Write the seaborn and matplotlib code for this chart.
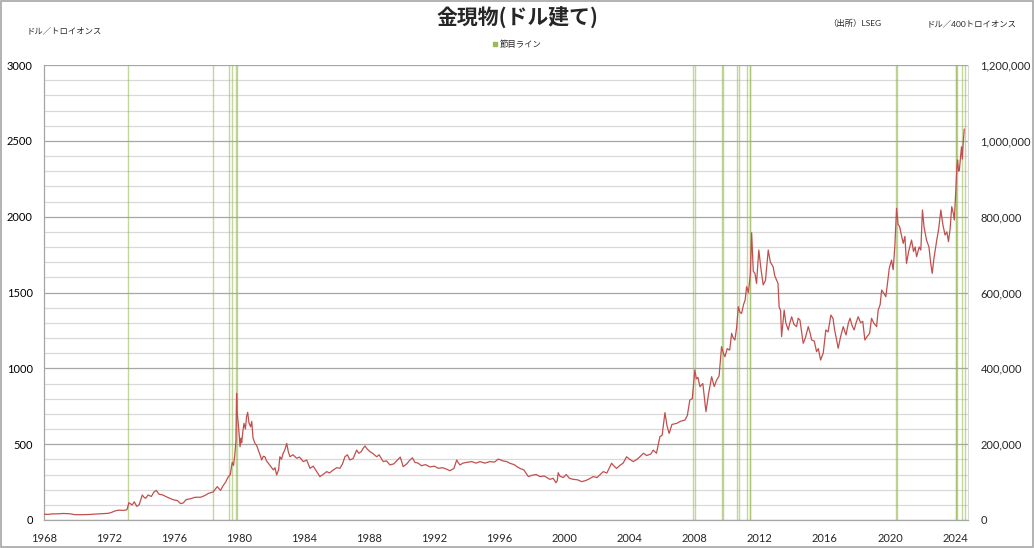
import numpy as np
import pandas as pd
import seaborn as sns
import matplotlib
matplotlib.use("Agg")
import matplotlib.pyplot as plt
from matplotlib.ticker import MultipleLocator, FuncFormatter
from matplotlib.lines import Line2D
from matplotlib.patches import Rectangle

# ---------------- data ----------------
years = [
    1968.00, 1968.25, 1968.5, 1968.9, 1969.2, 1969.6, 1969.9, 1970.3, 1970.7, 1971.0,
    1971.4, 1971.7, 1971.95, 1972.1, 1972.4, 1972.6, 1972.9, 1973.1, 1973.22, 1973.42,
    1973.55, 1973.7, 1973.85, 1974.04, 1974.15, 1974.25, 1974.4, 1974.6, 1974.76, 1974.9,
    1975.07, 1975.3, 1975.58, 1975.8, 1976.0, 1976.2, 1976.4, 1976.55, 1976.75, 1977.0,
    1977.3, 1977.63, 1977.9, 1978.1, 1978.24, 1978.4, 1978.65, 1978.85, 1979.0, 1979.17,
    1979.3, 1979.45, 1979.57, 1979.65, 1979.72, 1979.8, 1979.84, 1979.88, 1979.94, 1980.0,
    1980.05, 1980.12, 1980.15, 1980.22, 1980.29, 1980.38, 1980.45, 1980.52, 1980.6, 1980.7,
    1980.77, 1980.85, 1980.97, 1981.08, 1981.17, 1981.28, 1981.38, 1981.48, 1981.58, 1981.68,
    1981.79, 1981.95, 1982.1, 1982.2, 1982.3, 1982.42, 1982.5, 1982.6, 1982.7, 1982.8,
    1982.92, 1983.02, 1983.12, 1983.3, 1983.53, 1983.7, 1983.94, 1984.15, 1984.35, 1984.55,
    1984.76, 1984.96, 1985.15, 1985.38, 1985.55, 1985.78, 1986.0, 1986.19, 1986.35, 1986.5,
    1986.65, 1986.8, 1987.0, 1987.22, 1987.35, 1987.5, 1987.6, 1987.73, 1987.85, 1988.04,
    1988.2, 1988.45, 1988.6, 1988.85, 1989.05, 1989.27, 1989.5, 1989.68, 1989.9, 1990.08,
    1990.3, 1990.5, 1990.65, 1990.8, 1991.0, 1991.2, 1991.45, 1991.72, 1992.0, 1992.23,
    1992.5, 1992.75, 1992.95, 1993.2, 1993.37, 1993.45, 1993.57, 1993.75, 1993.98, 1994.3,
    1994.55, 1994.8, 1995.1, 1995.41, 1995.7, 1995.92, 1996.2, 1996.45, 1996.64, 1996.9,
    1997.1, 1997.25, 1997.5, 1997.77, 1998.0, 1998.25, 1998.49, 1998.75, 1999.1, 1999.3,
    1999.47, 1999.55, 1999.61, 1999.7, 1999.92, 2000.1, 2000.3, 2000.53, 2000.8, 2001.05,
    2001.3, 2001.5, 2001.76, 2002.0, 2002.2, 2002.38, 2002.6, 2002.89, 2003.05, 2003.2,
    2003.4, 2003.6, 2003.81, 2004.0, 2004.22, 2004.45, 2004.63, 2004.85, 2005.05, 2005.3,
    2005.45, 2005.65, 2005.86, 2006.0, 2006.17, 2006.3, 2006.43, 2006.6, 2006.89, 2007.1,
    2007.4, 2007.55, 2007.7, 2007.85, 2008.01, 2008.1, 2008.2, 2008.32, 2008.5, 2008.69,
    2008.85, 2009.04, 2009.2, 2009.35, 2009.5, 2009.65, 2009.76, 2009.86, 2010.0, 2010.15,
    2010.27, 2010.37, 2010.47, 2010.58, 2010.68, 2010.78, 2010.88, 2011.0, 2011.1, 2011.19,
    2011.3, 2011.42, 2011.5, 2011.6, 2011.7, 2011.8, 2011.94, 2012.08, 2012.21, 2012.35,
    2012.52, 2012.65, 2012.82, 2012.92, 2013.03, 2013.12, 2013.19, 2013.28, 2013.34, 2013.42,
    2013.5, 2013.6, 2013.75, 2013.85, 2013.96, 2014.1, 2014.26, 2014.36, 2014.47, 2014.57,
    2014.67, 2014.8, 2014.98, 2015.1, 2015.19, 2015.35, 2015.49, 2015.6, 2015.74, 2015.9,
    2016.06, 2016.2, 2016.37, 2016.5, 2016.6, 2016.7, 2016.82, 2016.95, 2017.13, 2017.3,
    2017.45, 2017.55, 2017.68, 2017.8, 2017.92, 2018.05, 2018.2, 2018.33, 2018.46, 2018.6,
    2018.75, 2018.87, 2019.0, 2019.18, 2019.28, 2019.4, 2019.49, 2019.6, 2019.69, 2019.75,
    2019.85, 2019.96, 2020.1, 2020.2, 2020.3, 2020.41, 2020.5, 2020.6, 2020.7, 2020.82,
    2020.92, 2021.02, 2021.15, 2021.33, 2021.45, 2021.55, 2021.64, 2021.8, 2021.9, 2022.0,
    2022.1, 2022.25, 2022.4, 2022.5, 2022.6, 2022.7, 2022.88, 2023.0, 2023.13, 2023.25,
    2023.39, 2023.5, 2023.6, 2023.7, 2023.8, 2023.9, 2023.96, 2024.05, 2024.12, 2024.16,
    2024.22, 2024.27, 2024.35, 2024.4, 2024.45, 2024.5, 2024.57,
]
prices = [
    38, 37, 40, 41, 43, 41, 35, 35, 36, 38,
    40, 42, 44, 48, 61, 65, 63, 68, 114, 99,
    120, 90, 100, 165, 150, 143, 165, 155, 185, 195,
    170, 165, 150, 140, 132, 128, 108, 112, 135, 140,
    150, 150, 162, 175, 180, 185, 220, 195, 225, 250,
    280, 300, 380, 360, 420, 520, 835, 700, 637, 560,
    483, 540, 510, 580, 637, 600, 680, 710, 640, 615,
    650, 540, 505, 490, 461, 430, 396, 420, 417, 390,
    374, 350, 330, 345, 297, 330, 417, 400, 440, 460,
    505, 450, 417, 430, 407, 415, 385, 395, 341, 355,
    319, 286, 300, 319, 310, 330, 345, 341, 370, 417,
    430, 396, 405, 461, 440, 450, 470, 488, 470, 450,
    440, 417, 430, 385, 390, 363, 370, 390, 415, 352,
    370, 396, 410, 380, 375, 358, 365, 350, 355, 341,
    345, 335, 325, 340, 396, 380, 363, 375, 380, 385,
    375, 385, 375, 385, 382, 402, 390, 385, 374, 365,
    350, 341, 330, 286, 295, 300, 286, 290, 268, 275,
    246, 260, 312, 290, 280, 300, 275, 268, 265, 253,
    260, 270, 286, 280, 300, 319, 310, 374, 355, 340,
    360, 375, 417, 400, 385, 400, 417, 440, 425, 435,
    461, 440, 549, 560, 708, 620, 571, 630, 637, 650,
    659, 690, 791, 800, 989, 930, 940, 879, 900, 714,
    830, 945, 880, 923, 950, 1143, 1100, 1077, 1130, 1120,
    1231, 1200, 1187, 1270, 1406, 1370, 1362, 1420, 1450, 1538,
    1500, 1620, 1894, 1640, 1626, 1560, 1780, 1650, 1550, 1580,
    1780, 1700, 1670, 1610, 1582, 1560, 1406, 1380, 1209, 1300,
    1384, 1300, 1253, 1300, 1340, 1290, 1275, 1330, 1318, 1240,
    1165, 1200, 1275, 1230, 1187, 1180, 1110, 1130, 1055, 1100,
    1253, 1240, 1351, 1330, 1253, 1200, 1132, 1200, 1275, 1220,
    1300, 1330, 1280, 1253, 1300, 1340, 1300, 1310, 1187, 1210,
    1230, 1330, 1300, 1275, 1385, 1420, 1516, 1500, 1483, 1472,
    1560, 1659, 1714, 1650, 1800, 2055, 1950, 1934, 1880, 1824,
    1870, 1692, 1770, 1846, 1770, 1800, 1736, 1800, 1780, 2044,
    1930, 1846, 1800, 1700, 1626, 1720, 1846, 1920, 2044, 1950,
    1879, 1900, 1835, 1920, 2066, 2020, 1978, 2176, 2330, 2374,
    2300, 2308, 2400, 2461, 2380, 2480, 2578,
]
milestone_dates = [
    1973.16, 1978.40, 1979.37, 1979.57, 1979.82, 1979.86,
    2007.87, 2008.01, 2009.70, 2009.73, 2010.57, 2010.70,
    2011.19, 2011.39, 2011.42, 2020.40, 2020.43,
    2024.05, 2024.08, 2024.15, 2024.46, 2024.62,
]
x_ticks = [1968, 1972, 1976, 1980, 1984, 1988, 1992, 1996, 2000, 2004, 2008, 2012, 2016, 2020, 2024]
x_tick_labels = [str(y) for y in x_ticks]
left_ticks = [0, 500, 1000, 1500, 2000, 2500, 3000]
right_ticks = [0, 200000, 400000, 600000, 800000, 1000000, 1200000]

title = "金現物(ドル建て)"
left_unit = "ドル／トロイオンス"
right_unit = "ドル／400トロイオンス"
source = "（出所）LSEG"
legend_label = "節目ライン"

# ---------------- figure ----------------
sns.set_style("white")
plt.rcParams["font.family"] = ["Lato", "Noto Sans CJK JP", "DejaVu Sans"]

W, H = 1034, 548
fig = plt.figure(figsize=(W / 100, H / 100), dpi=100)
ax = fig.add_axes([44 / W, 28 / H, (968 - 44) / W, (520 - 65) / H])

GREEN = "#9bbb59"
RED = "#c0504d"

for d in milestone_dates:
    ax.axvline(d, color=GREEN, lw=1.0, alpha=0.6, zorder=2)

df = pd.DataFrame({"year": years, "price": prices})
sns.lineplot(data=df, x="year", y="price", ax=ax, color=RED, lw=0.9, zorder=3)

ax.set_xlim(1968, 2024.8)
ax.set_ylim(0, 3000)
ax.set_xlabel("")
ax.set_ylabel("")
ax.set_xticks(x_ticks)
ax.set_xticklabels(x_tick_labels)
ax.set_yticks(left_ticks)
ax.yaxis.set_minor_locator(MultipleLocator(100))
ax.grid(False)
ax.grid(axis="y", which="major", color="#a6a6a6", lw=0.9, zorder=0)
ax.grid(axis="y", which="minor", color="#d9d9d9", lw=0.9, zorder=0)
ax.set_axisbelow(True)
ax.tick_params(axis="y", which="both", length=0, labelsize=8, pad=8, colors="#000000")
ax.tick_params(axis="x", length=4, width=0.8, color="#a6a6a6", direction="out",
               labelsize=8, pad=5)
for side in ["left", "bottom"]:
    ax.spines[side].set_color("#a6a6a6")
    ax.spines[side].set_linewidth(0.9)
ax.spines["top"].set_visible(False)
ax.spines["right"].set_color("#d9d9d9")

ax2 = ax.twinx()
ax2.set_ylim(0, 1200000)
ax2.set_yticks(right_ticks)
ax2.yaxis.set_major_formatter(FuncFormatter(lambda v, p: f"{v:,.0f}"))
ax2.tick_params(axis="y", length=0, labelsize=8, pad=9)
ax2.grid(False)
for s in ax2.spines.values():
    s.set_visible(False)

# texts
fig.text(517 / W, 1 - 18 / H, title, ha="center", va="center", fontsize=15,
         fontweight="bold", family=["Noto Sans CJK JP", "DejaVu Sans"])
fig.text(27 / W, 1 - 30 / H, left_unit, ha="left", va="center", fontsize=6)
fig.text(828 / W, 1 - 23 / H, source, ha="left", va="center", fontsize=6)
fig.text(927 / W, 1 - 23 / H, right_unit, ha="left", va="center", fontsize=6)

handle = Line2D([], [], marker="s", ls="", color=GREEN, markersize=3.5)
fig.legend(handles=[handle], labels=[legend_label], loc="center",
           bbox_to_anchor=(517 / W, 1 - 44 / H), frameon=False, fontsize=6,
           handlelength=0.6, handletextpad=0.2)

fig.patches.append(Rectangle((0.0008, 0.0015), 0.9984, 0.997, transform=fig.transFigure,
                             fill=False, edgecolor="#a6a6a6", lw=1.2))

fig.savefig("out.png", dpi=100)
